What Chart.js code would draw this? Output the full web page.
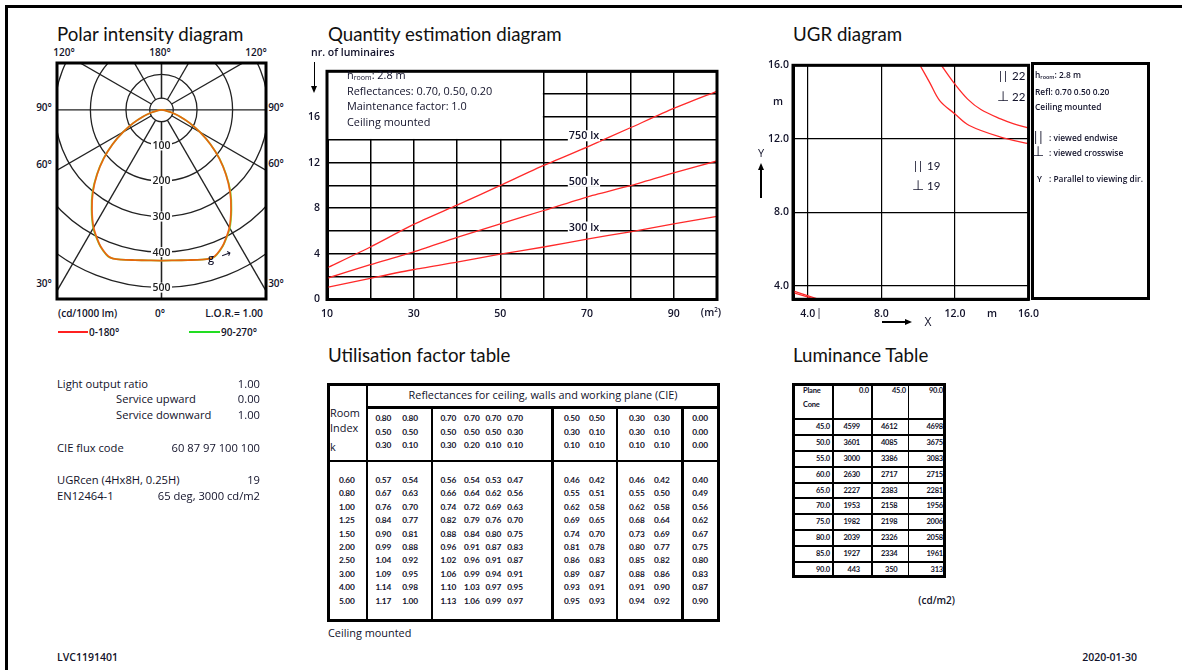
<!DOCTYPE html>
<html>
<head>
<meta charset="utf-8">
<script src="https://cdn.jsdelivr.net/npm/chart.js@4.4.1/dist/chart.umd.min.js"></script>
<style>
body { margin: 0; background: #fff; font-family: "Open Sans", "DejaVu Sans", sans-serif; color: #12122a; }
#page { position: relative; width: 1182px; height: 670px; overflow: hidden; background: #fff; }
.t { position: absolute; white-space: nowrap; line-height: 1; }
.ln { position: absolute; background: #000; }
canvas { position: absolute; }
sub { font-size: 65%; vertical-align: -1px; }
</style>
</head>
<body>
<div id="page">
  <canvas id="polar" width="213" height="240" style="left:55px;top:61px"></canvas>
  <canvas id="qty" width="428" height="266" style="left:297px;top:58px"></canvas>
  <canvas id="ugr" width="290" height="268" style="left:757px;top:55px"></canvas>
</div>
<script>
// polar intensity (cd/1000 lm) per gamma angle
const gammaDeg = [0, 5, 10, 15, 18, 20, 22.5, 25, 30, 35, 40, 45, 50, 55, 60, 65, 70, 75, 80, 85, 90];
const intensityC0 = [424, 425, 429, 436, 440, 438, 428, 415, 382, 341, 300, 256, 212, 168, 125, 88, 56, 31, 14, 5, 0];
const intensityC90 = [424, 425, 429, 436, 440, 439, 429, 416, 384, 343, 302, 257, 213, 168, 125, 88, 56, 31, 14, 5, 0];

// quantity estimation: floor area (m2) -> number of luminaires
const areaM2 = [10, 20, 30, 40, 50, 60, 70, 80, 90, 100];
const lum750 = [2.76, 4.6, 6.58, 8.27, 10.0, 11.75, 13.36, 15.05, 16.75, 18.25];
const lum500 = [1.86, 3.05, 4.18, 5.45, 6.63, 7.8, 8.98, 9.97, 11.1, 12.14];
const lum300 = [1.07, 1.86, 2.63, 3.27, 3.98, 4.6, 5.3, 5.93, 6.63, 7.29];
const lumLabels = ['750 lx', '500 lx', '300 lx'];

// UGR limit curves (room X, Y in m)
const ugrOuterX = [10.1, 10.63, 11.17, 12.0, 12.78, 14.48, 16.0];
const ugrOuterY = [16.0, 15.06, 14.08, 13.35, 12.72, 12.09, 11.73];
const ugrInnerX = [11.26, 12.0, 12.69, 13.41, 14.48, 15.2, 16.0];
const ugrInnerY = [16.0, 14.97, 14.16, 13.59, 13.08, 12.81, 12.58];
const ugrLowAX = [3.2, 4.4];
const ugrLowAY = [3.62, 3.26];
const ugrLowBX = [3.2, 4.6];
const ugrLowBY = [3.72, 3.26];
const ugrTicks = [4, 8, 12, 16];

// utilisation factor table
const roomIndex = ['0.60', '0.80', '1.00', '1.25', '1.50', '2.00', '2.50', '3.00', '4.00', '5.00'];
const reflCeiling = ['0.80', '0.80', '0.70', '0.70', '0.70', '0.70', '0.50', '0.50', '0.30', '0.30', '0.00'];
const reflWalls = ['0.50', '0.50', '0.50', '0.50', '0.50', '0.30', '0.30', '0.10', '0.30', '0.10', '0.00'];
const reflPlane = ['0.30', '0.10', '0.30', '0.20', '0.10', '0.10', '0.10', '0.10', '0.10', '0.10', '0.00'];
const ufValues = [
  ['0.57', '0.54', '0.56', '0.54', '0.53', '0.47', '0.46', '0.42', '0.46', '0.42', '0.40'],
  ['0.67', '0.63', '0.66', '0.64', '0.62', '0.56', '0.55', '0.51', '0.55', '0.50', '0.49'],
  ['0.76', '0.70', '0.74', '0.72', '0.69', '0.63', '0.62', '0.58', '0.62', '0.58', '0.56'],
  ['0.84', '0.77', '0.82', '0.79', '0.76', '0.70', '0.69', '0.65', '0.68', '0.64', '0.62'],
  ['0.90', '0.81', '0.88', '0.84', '0.80', '0.75', '0.74', '0.70', '0.73', '0.69', '0.67'],
  ['0.99', '0.88', '0.96', '0.91', '0.87', '0.83', '0.81', '0.78', '0.80', '0.77', '0.75'],
  ['1.04', '0.92', '1.02', '0.96', '0.91', '0.87', '0.86', '0.83', '0.85', '0.82', '0.80'],
  ['1.09', '0.95', '1.06', '0.99', '0.94', '0.91', '0.89', '0.87', '0.88', '0.86', '0.83'],
  ['1.14', '0.98', '1.10', '1.03', '0.97', '0.95', '0.93', '0.91', '0.91', '0.90', '0.87'],
  ['1.17', '1.00', '1.13', '1.06', '0.99', '0.97', '0.95', '0.93', '0.94', '0.92', '0.90']
];

// luminance table (cd/m2)
const lumPlanes = ['0.0', '45.0', '90.0'];
const lumCones = ['45.0', '50.0', '55.0', '60.0', '65.0', '70.0', '75.0', '80.0', '85.0', '90.0'];
const luminance = [
  [4599, 4612, 4698], [3601, 4085, 3675], [3000, 3386, 3083], [2630, 2717, 2715], [2227, 2383, 2281],
  [1953, 2158, 1956], [1982, 2198, 2006], [2039, 2326, 2058], [1927, 2334, 1961], [443, 350, 313]
];

const page = document.getElementById('page');
function txt(s, x, y, size, align, extra) {
  const d = document.createElement('div');
  d.className = 't';
  d.innerHTML = s;
  d.style.left = x + 'px';
  d.style.top = y + 'px';
  d.style.fontSize = size + 'px';
  const tx = align === 'c' ? '-50%' : align === 'r' ? '-100%' : '0';
  d.style.transform = 'translate(' + tx + ',-50%)';
  if (extra) Object.assign(d.style, extra);
  page.appendChild(d);
  return d;
}
function ln(x, y, w, h, color) {
  const d = document.createElement('div');
  d.className = 'ln';
  Object.assign(d.style, { left: x + 'px', top: y + 'px', width: w + 'px', height: h + 'px' });
  if (color) d.style.background = color;
  page.appendChild(d);
}
function tri(x, y, dir) {
  const d = document.createElement('div');
  d.style.position = 'absolute';
  d.style.left = x + 'px';
  d.style.top = y + 'px';
  d.style.width = 0; d.style.height = 0;
  if (dir === 'down') { d.style.borderLeft = '3px solid transparent'; d.style.borderRight = '3px solid transparent'; d.style.borderTop = '7px solid #000'; }
  if (dir === 'up') { d.style.borderLeft = '3px solid transparent'; d.style.borderRight = '3px solid transparent'; d.style.borderBottom = '7px solid #000'; }
  if (dir === 'right') { d.style.borderTop = '3px solid transparent'; d.style.borderBottom = '3px solid transparent'; d.style.borderLeft = '7px solid #000'; }
  page.appendChild(d);
}

// page frame (left and top)
ln(5, 5, 2.5, 665);
ln(5, 5, 1177, 2.5);

// titles
const titleStyle = { color: '#111', fontFamily: 'Lato, sans-serif' };
txt('Polar intensity diagram', 57, 33.5, 18.7, 'l', titleStyle);
txt('Quantity estimation diagram', 328, 33.5, 18.7, 'l', titleStyle);
txt('UGR diagram', 793, 33.5, 18.7, 'l', titleStyle);
txt('Utilisation factor table', 328, 354.5, 18.7, 'l', titleStyle);
txt('Luminance Table', 793, 354.5, 18.7, 'l', titleStyle);

// polar labels
const b = { fontWeight: 600 };
txt('120°', 64, 51.5, 10, 'c', b);
txt('180°', 160, 51.5, 10, 'c', b);
txt('120°', 256, 51.5, 10, 'c', b);
txt('90°', 44, 107, 10, 'c', b);
txt('90°', 276, 107, 10, 'c', b);
txt('60°', 44, 164, 10, 'c', b);
txt('60°', 276, 163, 10, 'c', b);
txt('30°', 44, 283, 10, 'c', b);
txt('30°', 276, 283, 10, 'c', b);
txt('(cd/1000 lm)', 58, 313, 10, 'l', b);
txt('0°', 160, 313, 10, 'c', b);
txt('L.O.R.= 1.00', 263, 313, 10.3, 'r', b);
ln(58, 331, 30, 1.5, '#ff2020');
txt('0-180°', 89, 331.5, 10, 'l', b);
ln(189, 331, 31, 1.5, '#22dd22');
txt('90-270°', 221, 331.5, 10, 'l', b);
txt('g', 211, 257, 11, 'c', b);
txt('→', 226, 254, 12, 'c', { transform: 'translate(-50%,-50%) rotate(-20deg)' });

// quantity diagram texts
txt('nr. of luminaires', 311, 52, 10.5, 'l', b);
ln(313.5, 62, 1.5, 25);
tri(311.2, 86, 'down');
txt('h<sub>room</sub>: 2.8 m', 347, 76, 10.9, 'l');
txt('Reflectances: 0.70, 0.50, 0.20', 347, 90.7, 10.9, 'l');
txt('Maintenance factor: 1.0', 347, 106.3, 10.9, 'l');
txt('Ceiling mounted', 347, 122, 10.9, 'l');
txt('(m<sup style="font-size:60%">2</sup>)', 711, 312, 10.5, 'c', b);

// UGR texts
const bars = { fontFamily: 'Lato, sans-serif', letterSpacing: '2px' };
const lat = { fontFamily: 'Lato, sans-serif' };
const dj = { fontFamily: 'DejaVu Sans, sans-serif' };
txt('m', 778, 101, 10.5, 'c', b);
txt('Y', 761, 152, 11, 'c');
ln(760.3, 170, 1.5, 28);
tri(758, 163, 'up');
txt('|', 819, 311, 11, 'c');
txt('m', 992, 313, 10.5, 'c', b);
ln(882, 321.3, 24, 1.5);
tri(905, 319, 'right');
txt('X', 928, 322, 12, 'c');
txt('||', 999, 76, 12, 'l', bars);
txt('22', 1012, 76, 11.5, 'l', lat);
txt('⊥', 997, 96, 14, 'l', dj);
txt('22', 1012, 96.7, 11.5, 'l', lat);
txt('||', 914, 165.7, 12, 'l', bars);
txt('19', 927, 165.7, 11.5, 'l', lat);
txt('⊥', 912, 185, 14, 'l', dj);
txt('19', 927, 185.7, 11.5, 'l', lat);
const legBox = document.createElement('div');
Object.assign(legBox.style, { position: 'absolute', left: '1031px', top: '62px', width: '119px', height: '237.5px', border: '3px solid #000', boxSizing: 'border-box' });
page.appendChild(legBox);
const sm = { fontWeight: 600 };
txt('h<sub>room</sub>: 2.8 m', 1035, 76, 8.4, 'l', sm);
txt('Refl: 0.70 0.50 0.20', 1035, 91.7, 8.4, 'l', sm);
txt('Ceiling mounted', 1035, 107, 8.4, 'l', sm);
txt('||', 1034, 136.5, 13, 'l', bars);
txt(': viewed endwise', 1049, 137.5, 8.4, 'l', sm);
txt('⊥', 1032, 151, 14, 'l', dj);
txt(': viewed crosswise', 1049, 152.5, 8.4, 'l', sm);
txt('Y', 1037, 179, 8.4, 'l', sm);
txt(': Parallel to viewing dir.', 1049, 179, 8.4, 'l', sm);

// left info block
const body = 11.2;
txt('Light output ratio', 57, 383.7, body, 'l');
txt('1.00', 260, 383.7, body, 'r');
txt('Service upward', 116, 399, body, 'l');
txt('0.00', 260, 399, body, 'r');
txt('Service downward', 116, 414.7, body, 'l');
txt('1.00', 260, 414.7, body, 'r');
txt('CIE flux code', 57, 447.7, body, 'l');
txt('60 87 97 100 100', 260, 447.7, body, 'r');
txt('UGRcen (4Hx8H, 0.25H)', 57, 480, body, 'l');
txt('19', 260, 480, body, 'r');
txt('EN12464-1', 57, 495.7, body, 'l');
txt('65 deg, 3000 cd/m2', 260, 495.7, body, 'r');

// footer
txt('LVC1191401', 57, 657, 10.5, 'l', b);
txt('2020-01-30', 1137, 657, 10.5, 'r', b);

// utilisation factor table
(function () {
  const box = document.createElement('div');
  Object.assign(box.style, { position: 'absolute', left: '326.5px', top: '383px', width: '393px', height: '239px', border: '3px solid #000', boxSizing: 'border-box' });
  page.appendChild(box);
  ln(365.5, 383, 2.5, 239);
  [430.5, 551, 615.5, 681].forEach(x => ln(x, 406, 2.5, 216));
  ln(365.5, 406, 354, 2.5);
  ln(326.5, 459.5, 393, 2.5);
  txt('Reflectances for ceiling, walls and working plane (CIE)', 543, 395, 10.9, 'c');
  txt('Room', 330, 413, 10.9, 'l');
  txt('Index', 330, 428, 10.9, 'l');
  txt('k', 330, 447, 10.9, 'l');
  const colX = [383.3, 410, 448.3, 471.7, 493.3, 515, 571.7, 596.7, 636.7, 661.7, 700];
  const st = { fontWeight: 700, letterSpacing: '-0.2px', fontFamily: 'Lato, sans-serif' };
  [reflCeiling, reflWalls, reflPlane].forEach((row, r) => {
    row.forEach((v, i) => txt(v, colX[i], 418.3 + r * 13.5, 8.3, 'c', st));
  });
  roomIndex.forEach((k, r) => {
    const y = 480 + r * 13.4;
    txt(k, 346.7, y, 8.3, 'c', st);
    ufValues[r].forEach((v, i) => txt(v, colX[i], y, 8.3, 'c', st));
  });
  txt('Ceiling mounted', 328, 633, 10.9, 'l');
})();

// luminance table
(function () {
  const box = document.createElement('div');
  Object.assign(box.style, { position: 'absolute', left: '792px', top: '383px', width: '153.5px', height: '195px', border: '3px solid #000', boxSizing: 'border-box' });
  page.appendChild(box);
  [832, 871, 907.5].forEach(x => ln(x, 383, 1.8, 195));
  for (let i = 0; i < 10; i++) ln(792, 418.3 + i * 15.8, 153, 2);
  const st = { fontWeight: 700, letterSpacing: '-0.2px', fontFamily: 'Lato, sans-serif' };
  txt('Plane', 803, 391, 7.5, 'l', st);
  txt('Cone', 803, 405, 7.5, 'l', st);
  const headR = [869, 906, 943];
  const valR = [860, 897.5, 943];
  lumPlanes.forEach((p, i) => txt(p, headR[i], 391, 7.5, 'r', st));
  lumCones.forEach((c, r) => {
    const y = 427.3 + r * 15.8;
    txt(c, 830, y, 7.5, 'r', st);
    luminance[r].forEach((v, i) => txt(String(v), valR[i], y, 7.5, 'r', st));
  });
  txt('(cd/m2)', 955, 600, 10, 'r', b);
})();

Chart.defaults.font.family = 'Open Sans';
Chart.defaults.font.size = 10.5;
Chart.defaults.font.weight = 600;
Chart.defaults.color = '#12122a';
Chart.defaults.animation = false;

function frame(chart, w) {
  const { ctx, chartArea: a } = chart;
  ctx.save();
  ctx.strokeStyle = '#000';
  ctx.lineWidth = w;
  ctx.strokeRect(a.left, a.top, a.right - a.left, a.bottom - a.top);
  ctx.restore();
}

// ---- polar intensity diagram
function polarPoints(I) {
  const pts = [];
  for (let i = gammaDeg.length - 1; i >= 0; i--) {
    const t = gammaDeg[i] * Math.PI / 180;
    pts.push({ x: -I[i] * Math.sin(t), y: -I[i] * Math.cos(t) });
  }
  for (let i = 1; i < gammaDeg.length; i++) {
    const t = gammaDeg[i] * Math.PI / 180;
    pts.push({ x: I[i] * Math.sin(t), y: -I[i] * Math.cos(t) });
  }
  return pts;
}

const polarGrid = {
  id: 'polarGrid',
  beforeDatasetsDraw(chart) {
    const { ctx, chartArea: a, scales: { x, y } } = chart;
    const cx = x.getPixelForValue(0), cy = y.getPixelForValue(0);
    const k = x.getPixelForValue(100) - cx;
    const hub = 0.33 * k;
    ctx.save();
    ctx.beginPath();
    ctx.rect(a.left, a.top, a.right - a.left, a.bottom - a.top);
    ctx.clip();
    ctx.strokeStyle = '#222';
    ctx.lineWidth = 1.3;
    [0.33, 1, 2, 3, 4, 5].forEach(r => {
      ctx.beginPath();
      ctx.arc(cx, cy, r * k, 0, Math.PI * 2);
      ctx.stroke();
    });
    [0, 30, 60, 120, 150, 180].forEach(g => {
      [-1, 1].forEach(s => {
        const t = g * Math.PI / 180;
        const dx = s * Math.sin(t), dy = Math.cos(t);
        ctx.beginPath();
        ctx.moveTo(cx + dx * hub, cy + dy * hub);
        ctx.lineTo(cx + dx * 1000, cy + dy * 1000);
        ctx.stroke();
      });
    });
    ctx.beginPath();
    ctx.moveTo(a.left, cy);
    ctx.lineTo(a.right, cy);
    ctx.stroke();
    ctx.font = '600 10.5px "Open Sans"';
    ctx.textAlign = 'center';
    ctx.textBaseline = 'middle';
    [100, 200, 300, 400, 500].forEach(v => {
      const py = cy + v / 100 * k;
      const w = ctx.measureText(String(v)).width + 3;
      ctx.fillStyle = '#fff';
      ctx.fillRect(cx - w / 2, py - 5, w, 10);
      ctx.fillStyle = '#222';
      ctx.fillText(String(v), cx, py + 0.5);
    });
    ctx.restore();
  },
  afterDatasetsDraw(chart) { frame(chart, 3); }
};

new Chart(document.getElementById('polar'), {
  type: 'scatter',
  data: {
    datasets: [
      { label: '0-180°', data: polarPoints(intensityC0), showLine: true, borderColor: 'rgba(255,70,0,0.8)', borderWidth: 1.8, pointRadius: 0, tension: 0.3 },
      { label: '90-270°', data: polarPoints(intensityC90), showLine: true, borderColor: '#77ee44', borderWidth: 1.8, pointRadius: 0, tension: 0.3 }
    ]
  },
  options: {
    responsive: false,
    maintainAspectRatio: false,
    layout: { padding: 2 },
    plugins: { legend: { display: false }, tooltip: { enabled: false } },
    scales: {
      x: { display: false, min: -294, max: 294 },
      y: { display: false, min: -532, max: 132 }
    }
  },
  plugins: [polarGrid]
});

// ---- quantity estimation diagram
const qtyDecor = {
  id: 'qtyDecor',
  beforeDatasetsDraw(chart) {
    const { ctx, chartArea: a, scales: { x, y } } = chart;
    const x1 = x.getPixelForValue(60), y1 = y.getPixelForValue(14);
    ctx.save();
    ctx.fillStyle = '#fff';
    ctx.fillRect(a.left, a.top, x1 - a.left - 0.8, y1 - a.top - 0.8);
    ctx.restore();
  },
  afterDatasetsDraw(chart) {
    const { ctx, scales: { x, y } } = chart;
    ctx.save();
    ctx.font = '600 10.8px "Open Sans"';
    ctx.textAlign = 'center';
    ctx.textBaseline = 'middle';
    [14, 10, 6].forEach((gy, i) => {
      const px = x.getPixelForValue(69.3), py = y.getPixelForValue(gy) - 3.5;
      const w = ctx.measureText(lumLabels[i]).width + 2;
      ctx.fillStyle = '#fff';
      ctx.fillRect(px - w / 2, py - 6, w, 11);
      ctx.fillStyle = '#12122a';
      ctx.fillText(lumLabels[i], px, py);
    });
    ctx.restore();
    frame(chart, 3);
  }
};

const redLine = { showLine: true, borderColor: '#ff2a2a', borderWidth: 1.3, pointRadius: 0, tension: 0.2 };
new Chart(document.getElementById('qty'), {
  type: 'scatter',
  data: {
    datasets: [
      Object.assign({ label: lumLabels[0], data: areaM2.map((a, i) => ({ x: a, y: lum750[i] })) }, redLine),
      Object.assign({ label: lumLabels[1], data: areaM2.map((a, i) => ({ x: a, y: lum500[i] })) }, redLine),
      Object.assign({ label: lumLabels[2], data: areaM2.map((a, i) => ({ x: a, y: lum300[i] })) }, redLine)
    ]
  },
  options: {
    responsive: false,
    maintainAspectRatio: false,
    layout: { padding: { left: 0, top: 5, right: 6, bottom: 0 } },
    plugins: { legend: { display: false }, tooltip: { enabled: false } },
    scales: {
      x: {
        type: 'linear', min: 10, max: 100,
        grid: { color: '#000', lineWidth: 1.5, drawTicks: false },
        border: { display: true, color: '#000', width: 3 },
        ticks: { stepSize: 10, autoSkip: false, maxRotation: 0, padding: 8, callback: v => (v % 20 === 10 && v < 100) ? v : '' },
        afterFit: s => { s.height = 24.5; }
      },
      y: {
        type: 'linear', min: 0, max: 20,
        grid: { color: '#000', lineWidth: 1.5, drawTicks: false },
        border: { display: true, color: '#000', width: 3 },
        ticks: { stepSize: 2, autoSkip: false, padding: 7, callback: v => (v % 4 === 0 && v < 20) ? v : '' },
        afterFit: s => { s.width = 30; }
      }
    }
  },
  plugins: [qtyDecor]
});

// ---- UGR diagram
const ugrLine = { showLine: true, borderColor: '#ff2a2a', borderWidth: 1.3, pointRadius: 0, tension: 0.35 };
const xy = (X, Y) => X.map((v, i) => ({ x: v, y: Y[i] }));
new Chart(document.getElementById('ugr'), {
  type: 'scatter',
  data: {
    datasets: [
      Object.assign({ label: 'outer', data: xy(ugrOuterX, ugrOuterY) }, ugrLine),
      Object.assign({ label: 'inner', data: xy(ugrInnerX, ugrInnerY) }, ugrLine),
      Object.assign({ label: 'lowA', data: xy(ugrLowAX, ugrLowAY) }, ugrLine),
      Object.assign({ label: 'lowB', data: xy(ugrLowBX, ugrLowBY) }, ugrLine)
    ]
  },
  options: {
    responsive: false,
    maintainAspectRatio: false,
    layout: { padding: { left: 0, top: 8, right: 15.3, bottom: 0 } },
    plugins: { legend: { display: false }, tooltip: { enabled: false } },
    scales: {
      x: {
        type: 'linear', min: 3.2, max: 16,
        grid: { color: '#000', lineWidth: 1.2, drawTicks: false },
        border: { display: true, color: '#000', width: 3 },
        afterBuildTicks: s => { s.ticks = ugrTicks.map(v => ({ value: v })); },
        ticks: { autoSkip: false, maxRotation: 0, padding: 8, callback: v => Number(v).toFixed(1) },
        afterFit: s => { s.height = 23.7; }
      },
      y: {
        type: 'linear', min: 3.26, max: 16,
        grid: { color: '#000', lineWidth: 1.2, drawTicks: false },
        border: { display: true, color: '#000', width: 3 },
        afterBuildTicks: s => { s.ticks = ugrTicks.map(v => ({ value: v })); },
        ticks: { autoSkip: false, padding: 4, callback: v => Number(v).toFixed(1) },
        afterFit: s => { s.width = 36; }
      }
    }
  },
  plugins: [{ id: 'ugrFrame', afterDatasetsDraw(chart) { frame(chart, 3); } }]
});
</script>
</body>
</html>
